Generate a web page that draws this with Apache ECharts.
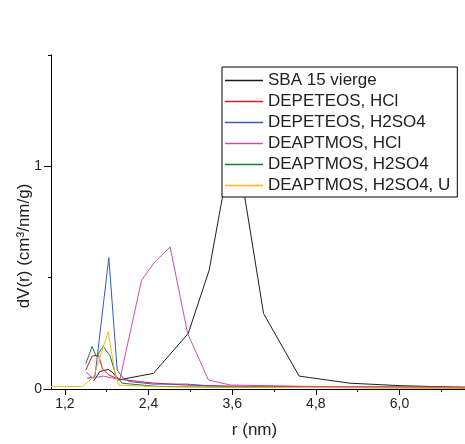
<!DOCTYPE html>
<html><head><meta charset="utf-8">
<script src="https://cdn.jsdelivr.net/npm/echarts@6/dist/echarts.min.js"></script>
<style>html,body{margin:0;padding:0;background:#fff}#c{width:465px;height:444px}</style>
</head><body><div id="c"></div>
<script>
const seriesNames = ['SBA 15 vierge','DEPETEOS, HCl','DEPETEOS, H2SO4','DEAPTMOS, HCl','DEAPTMOS, H2SO4','DEAPTMOS, H2SO4, U'];
const seriesColors = ['#1e1e1e','#e8161e','#3858c4','#cc4fae','#1b7b3a','#f8b820'];

const sbaR = [1.61,1.70,1.82,1.89,1.97,2.09,2.47,2.97,3.27,3.63,4.05,4.56,5.29,6.01,6.94];
const sbaV = [0.035,0.078,0.088,0.073,0.040,0.048,0.070,0.250,0.534,1.154,0.339,0.058,0.026,0.015,0.007];

const depHclR = [1.50,1.59,1.68,1.74,1.83,1.96,2.28,2.46,2.92,3.57,4.57,6.94];
const depHclV = [0.085,0.148,0.152,0.090,0.063,0.045,0.033,0.027,0.018,0.013,0.011,0.009];

const depH2R = [1.52,1.63,1.83,1.95,2.04,2.13,2.47,2.95,3.25,3.60,4.50,6.94];
const depH2V = [0.048,0.055,0.590,0.085,0.048,0.033,0.022,0.022,0.014,0.010,0.008,0.006];

const deaHclR = [1.50,1.60,1.75,1.88,1.99,2.30,2.49,2.71,2.96,3.26,3.57,4.60,6.94];
const deaHclV = [0.076,0.049,0.058,0.049,0.045,0.489,0.571,0.638,0.250,0.040,0.018,0.012,0.006];

const deaH2R = [1.50,1.59,1.65,1.75,1.85,1.93,2.02,2.50,3.50,6.94];
const deaH2V = [0.114,0.191,0.146,0.191,0.148,0.061,0.026,0.012,0.008,0.004];

const deaH2UR = [1.00,1.45,1.61,1.82,1.92,1.97,2.50,3.50,6.94];
const deaH2UV = [0.011,0.011,0.054,0.257,0.070,0.018,0.010,0.008,0.004];

const xMajorTicks = [1.2,2.4,3.6,4.8,6.0];
const xMinorTicks = [1.8,3.0,4.2,5.4,6.6];
const yMajorTicks = [0,1];
const yMinorTicks = [0.5,1.5];

const xTitle = 'r (nm)';
const yTitle = 'dV(r) (cm³/nm/g)';

const zip = (a,b) => a.map((v,i)=>[v,b[i]]);
const allR = [sbaR,depHclR,depH2R,deaHclR,deaH2R,deaH2UR];
const allV = [sbaV,depHclV,depH2V,deaHclV,deaH2V,deaH2UV];

const FONT = '"Liberation Sans", Arial, sans-serif';
const chart = echarts.init(document.getElementById('c'), null, {renderer:'canvas'});
const xBase = {type:'value', min:0.9, max:6.94, position:'bottom', splitLine:{show:false}};
const yBase = {type:'value', min:0, max:1.5, position:'left', offset:-7, splitLine:{show:false}};
chart.setOption({
  animation:false,
  backgroundColor:'#fff',
  color:seriesColors,
  grid:{left:44, right:0, top:55, bottom:55, containLabel:false},
  xAxis:[
    Object.assign({}, xBase, {
      name:xTitle, nameLocation:'middle', nameGap:33,
      nameTextStyle:{fontFamily:FONT, fontSize:17, color:'#222'},
      axisLine:{show:true, lineStyle:{color:'#000', width:1}},
      axisTick:{show:true, inside:false, length:6, customValues:xMajorTicks, lineStyle:{color:'#000'}},
      axisLabel:{show:true, margin:8, customValues:xMajorTicks, fontFamily:FONT, fontSize:14, color:'#222',
        formatter:v=>v.toFixed(1).replace('.',',')}
    }),
    Object.assign({}, xBase, {
      axisLine:{show:false},
      axisTick:{show:true, inside:false, length:3, customValues:xMinorTicks, lineStyle:{color:'#000'}},
      axisLabel:{show:false}
    })
  ],
  yAxis:[
    Object.assign({}, yBase, {
      axisLine:{show:true, lineStyle:{color:'#000', width:1}},
      axisTick:{show:true, inside:false, length:7, customValues:yMajorTicks, lineStyle:{color:'#000'}},
      axisLabel:{show:true, margin:9, customValues:yMajorTicks, fontFamily:FONT, fontSize:14, color:'#222',
        formatter:v=>String(v)}
    }),
    Object.assign({}, yBase, {
      axisLine:{show:false},
      axisTick:{show:true, inside:false, length:3, customValues:yMinorTicks, lineStyle:{color:'#000'}},
      axisLabel:{show:false}
    })
  ],
  legend:{
    show:true, orient:'vertical', left:222, top:67, z:20,
    backgroundColor:'#fff', borderColor:'#000', borderWidth:1, borderRadius:0,
    padding:[5,7,3,3], itemGap:4, itemWidth:38, itemHeight:1.5, icon:'rect',
    textStyle:{fontFamily:FONT, fontSize:17, color:'#222', lineHeight:17},
    data:seriesNames
  },
  graphic:[{
    type:'text', x:24, y:246, rotation:Math.PI/2,
    style:{text:yTitle, fontFamily:FONT, fontSize:17, fill:'#222', textAlign:'center', textVerticalAlign:'middle'}
  }],
  series: seriesNames.map((n,i)=>({
    name:n, type:'line', xAxisIndex:0, yAxisIndex:0,
    data:zip(allR[i], allV[i]), symbol:'none', showSymbol:false, smooth:false,
    color:seriesColors[i],
    lineStyle:{color:seriesColors[i], width:1}, itemStyle:{color:seriesColors[i]},
    clip:true
  }))
});
</script></body></html>
